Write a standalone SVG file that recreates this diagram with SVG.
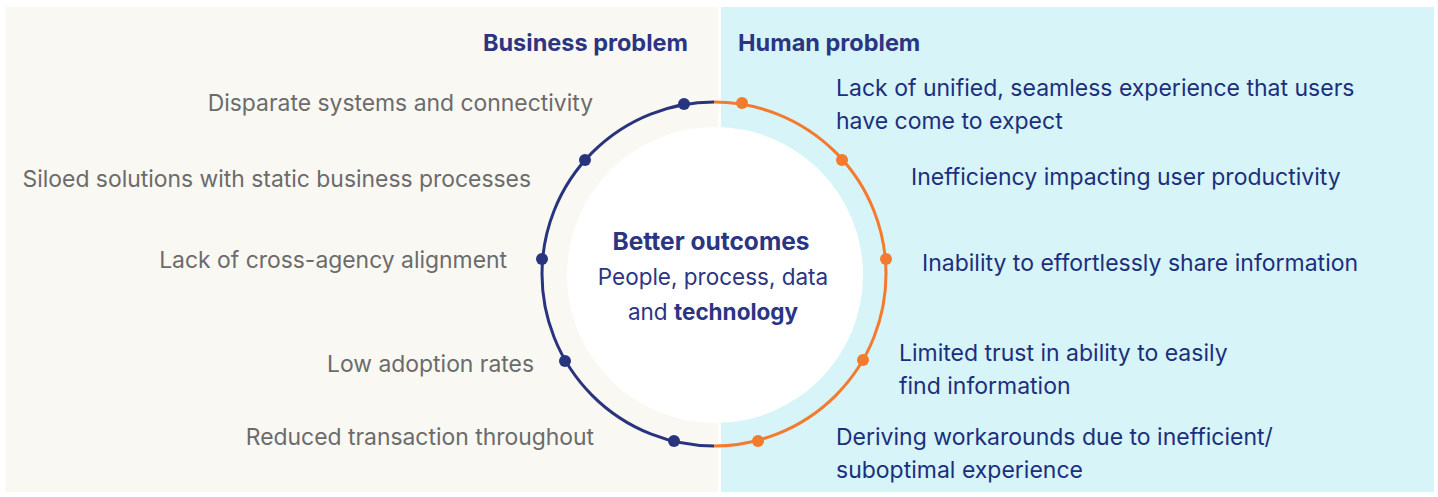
<svg xmlns="http://www.w3.org/2000/svg" width="1438" height="497" viewBox="0 0 1438 497">
  <style>
    text { font-family: Inter, "Noto Sans", "Liberation Sans", sans-serif; }
    .head { font-size: 23.5px; font-weight: 700; fill: #2b3582; }
    .biz { font-size: 22.9px; fill: #6b6b6b; text-anchor: end; }
    .hum { font-size: 23px; fill: #1c2f7d; }
    .center { font-size: 22.5px; fill: #2b3582; text-anchor: middle; }
    .bold { font-weight: 700; }
    .big { font-size: 24.5px; }
    .ring-biz { fill: none; stroke: #29347f; stroke-width: 3; }
    .ring-hum { fill: none; stroke: #f47a2e; stroke-width: 3; }
    .dot-biz { fill: #29347f; }
    .dot-hum { fill: #f47a2e; }
  </style>

  <!-- panels -->
  <rect x="5" y="7" width="713" height="485" fill="#f9f8f3"/>
  <rect x="721" y="7" width="713" height="485" fill="#d7f4f8"/>

  <!-- headings -->
  <text class="head" x="688" y="51" text-anchor="end">Business problem</text>
  <text class="head" x="738" y="51">Human problem</text>

  <!-- centre hub -->
  <g id="hub">
    <circle cx="715" cy="275" r="148" fill="#ffffff"/>
    <text class="center bold big" x="711" y="250">Better outcomes</text>
    <text class="center" x="713" y="285">People, process, data</text>
    <text class="center" x="713" y="320">and <tspan class="bold">technology</tspan></text>
  </g>

  <!-- ring -->
  <g id="connectors">
    <path class="ring-biz" d="M714 102 A172 172 0 0 0 714 446"/>
    <path class="ring-hum" d="M714 102 A172 172 0 0 1 714 446"/>
  </g>

  <!-- business problems -->
  <g id="biz-1"><circle class="dot-biz" cx="684" cy="104" r="6"/><text class="biz" x="593" y="111">Disparate systems and connectivity</text></g>
  <g id="biz-2"><circle class="dot-biz" cx="585" cy="160" r="6"/><text class="biz" x="531" y="187">Siloed solutions with static business processes</text></g>
  <g id="biz-3"><circle class="dot-biz" cx="542" cy="259" r="6"/><text class="biz" x="507" y="268">Lack of cross-agency alignment</text></g>
  <g id="biz-4"><circle class="dot-biz" cx="565" cy="361" r="6"/><text class="biz" x="534" y="372">Low adoption rates</text></g>
  <g id="biz-5"><circle class="dot-biz" cx="674" cy="441" r="6"/><text class="biz" x="594" y="445">Reduced transaction throughout</text></g>

  <!-- human problems -->
  <g id="hum-1"><circle class="dot-hum" cx="742" cy="103" r="6"/><text class="hum" x="836" y="96">Lack of unified, seamless experience that users</text><text class="hum" x="836" y="129">have come to expect</text></g>
  <g id="hum-2"><circle class="dot-hum" cx="842" cy="160" r="6"/><text class="hum" x="911" y="185">Inefficiency impacting user productivity</text></g>
  <g id="hum-3"><circle class="dot-hum" cx="886" cy="259" r="6"/><text class="hum" x="922" y="271">Inability to effortlessly share information</text></g>
  <g id="hum-4"><circle class="dot-hum" cx="863" cy="360" r="6"/><text class="hum" x="899" y="361">Limited trust in ability to easily</text><text class="hum" x="899" y="394">find information</text></g>
  <g id="hum-5"><circle class="dot-hum" cx="758" cy="441" r="6"/><text class="hum" x="836" y="445">Deriving workarounds due to inefficient/</text><text class="hum" x="836" y="478">suboptimal experience</text></g>
</svg>
